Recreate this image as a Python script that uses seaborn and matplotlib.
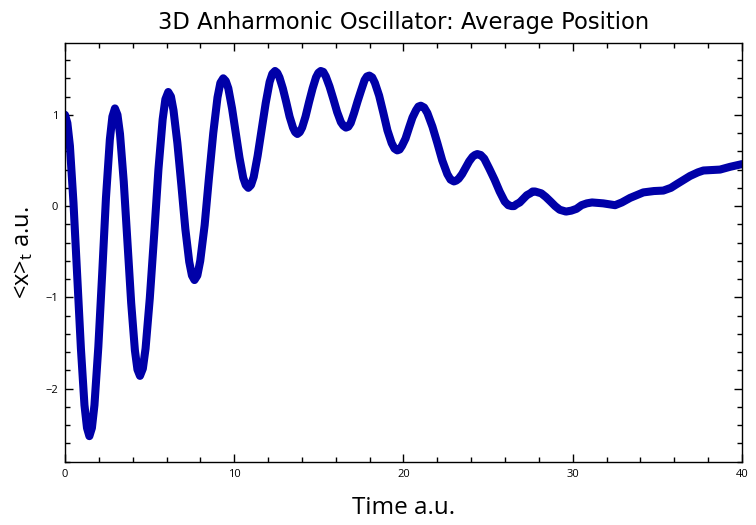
import numpy as np
import pandas as pd
import matplotlib
matplotlib.use("Agg")
import matplotlib.pyplot as plt
from matplotlib.ticker import MultipleLocator
import seaborn as sns

# Time (a.u.) and <x>_t (a.u.)
time_au = [
    0.00, 0.14, 0.29, 0.50, 0.72, 0.94, 1.15, 1.30, 1.44,
    1.59, 1.74, 1.97, 2.20, 2.42, 2.65, 2.80, 2.95,
    3.10, 3.25, 3.47, 3.69, 3.91, 4.13, 4.28, 4.43,
    4.60, 4.76, 5.01, 5.27, 5.52, 5.77, 5.93, 6.10,
    6.26, 6.41, 6.64, 6.88, 7.11, 7.34, 7.50, 7.65,
    7.82, 7.99, 8.25, 8.50, 8.76, 9.01, 9.18, 9.35,
    9.50, 9.65, 9.87, 10.09, 10.31, 10.53, 10.68, 10.83,
    10.99, 11.15, 11.38, 11.62, 11.86, 12.09, 12.25, 12.41,
    12.54, 12.67, 12.87, 13.07, 13.27, 13.47, 13.60, 13.73,
    13.87, 14.01, 14.21, 14.42, 14.63, 14.83, 14.97, 15.11,
    15.26, 15.41, 15.63, 15.86, 16.08, 16.30, 16.45, 16.60,
    16.74, 16.88, 17.08, 17.29, 17.50, 17.70, 17.84, 17.98,
    18.15, 18.31, 18.56, 18.81, 19.05, 19.30, 19.47, 19.63,
    19.77, 19.91, 20.12, 20.33, 20.53, 20.74, 20.88, 21.02,
    21.22, 21.41, 21.71, 22.00, 22.29, 22.59, 22.78, 22.98,
    23.12, 23.26, 23.46, 23.67, 23.88, 24.08, 24.22, 24.36,
    24.56, 24.77, 25.07, 25.38, 25.68, 25.98, 26.19, 26.39,
    26.53, 26.67, 26.87, 27.08, 27.29, 27.49, 27.63, 27.77,
    27.95, 28.14, 28.41, 28.69, 28.96, 29.23, 29.42, 29.60,
    29.91, 30.22, 30.52, 30.83, 31.14,
    31.80, 32.50, 32.90, 33.39, 34.17, 34.80, 35.35, 35.80,
    36.14, 36.93, 37.40, 37.72, 38.20, 38.70, 39.29, 40.00,
]
avg_position = [
    1.00, 0.91, 0.66, 0.04, -0.76, -1.56, -2.18, -2.43, -2.52,
    -2.43, -2.18, -1.54, -0.73, 0.09, 0.73, 0.98, 1.07,
    1.00, 0.79, 0.27, -0.40, -1.06, -1.58, -1.79, -1.86,
    -1.78, -1.56, -1.01, -0.31, 0.40, 0.95, 1.17, 1.25,
    1.20, 1.05, 0.69, 0.22, -0.25, -0.61, -0.76, -0.81,
    -0.76, -0.60, -0.21, 0.30, 0.80, 1.19, 1.35, 1.40,
    1.37, 1.29, 1.07, 0.80, 0.53, 0.31, 0.23, 0.20,
    0.23, 0.32, 0.55, 0.84, 1.13, 1.36, 1.45, 1.48,
    1.46, 1.41, 1.29, 1.14, 0.98, 0.86, 0.81, 0.79,
    0.81, 0.86, 0.98, 1.14, 1.29, 1.41, 1.46, 1.48,
    1.47, 1.42, 1.31, 1.17, 1.03, 0.92, 0.88, 0.86,
    0.87, 0.91, 1.02, 1.15, 1.27, 1.38, 1.42, 1.43,
    1.41, 1.35, 1.21, 1.02, 0.83, 0.69, 0.63, 0.61,
    0.62, 0.66, 0.74, 0.86, 0.97, 1.05, 1.09, 1.10,
    1.08, 1.02, 0.87, 0.69, 0.50, 0.35, 0.29, 0.27,
    0.28, 0.30, 0.35, 0.42, 0.49, 0.54, 0.56, 0.57,
    0.56, 0.52, 0.41, 0.29, 0.16, 0.05, 0.01, 0.00,
    0.00, 0.02, 0.04, 0.08, 0.12, 0.14, 0.16, 0.16,
    0.15, 0.14, 0.10, 0.05, 0.00, -0.04, -0.05, -0.06,
    -0.05, -0.03, 0.01, 0.03, 0.04,
    0.03, 0.01, 0.04, 0.09, 0.15, 0.165, 0.17, 0.20,
    0.24, 0.33, 0.37, 0.39, 0.395, 0.40, 0.43, 0.46,
]

title_text = "3D Anharmonic Oscillator: Average Position"
x_label = "Time a.u."
y_label = r"<x>$_t$ a.u."

df = pd.DataFrame({"t": time_au, "x": avg_position})

sns.set_theme(style="ticks")
plt.rcParams["font.family"] = ["Open Sans", "DejaVu Sans"]
plt.rcParams["mathtext.fontset"] = "custom"
plt.rcParams["mathtext.rm"] = "Open Sans"
plt.rcParams["mathtext.it"] = "Open Sans"
plt.rcParams["text.color"] = "black"
plt.rcParams["axes.labelcolor"] = "black"

fig = plt.figure(figsize=(7.56, 5.25), dpi=100)
ax = fig.add_axes([65 / 756, 1 - 461.7 / 525, (742 - 65) / 756, (461.7 - 42.7) / 525])

sns.lineplot(data=df, x="t", y="x", ax=ax, color="#0000a8", linewidth=5.8,
             solid_capstyle="round", solid_joinstyle="round")

ax.set_xlim(0, 40)
ax.set_ylim(-2.80, 1.79)
ax.xaxis.set_major_locator(MultipleLocator(10))
ax.xaxis.set_minor_locator(MultipleLocator(2))
ax.yaxis.set_major_locator(MultipleLocator(1))
ax.yaxis.set_minor_locator(MultipleLocator(0.2))
ax.tick_params(which="both", direction="in", top=True, right=True,
               labelsize=8, colors="black", width=1.0, pad=5)
ax.tick_params(which="major", length=6)
ax.tick_params(which="minor", length=3.5)
for s in ax.spines.values():
    s.set_linewidth(1.0)
    s.set_color("black")

ax.set_yticks([-2, -1, 0, 1])
ax.set_yticklabels(["\u22122", "\u22121", "0", "1"])

ax.set_title(title_text, fontsize=16.3, pad=10, family=["DejaVu Sans"], color="black")
ax.set_xlabel(x_label, fontsize=17.5, labelpad=12, color="black")
ax.set_ylabel(y_label, fontsize=17, labelpad=7, color="black")

fig.savefig("out.png", dpi=100)
